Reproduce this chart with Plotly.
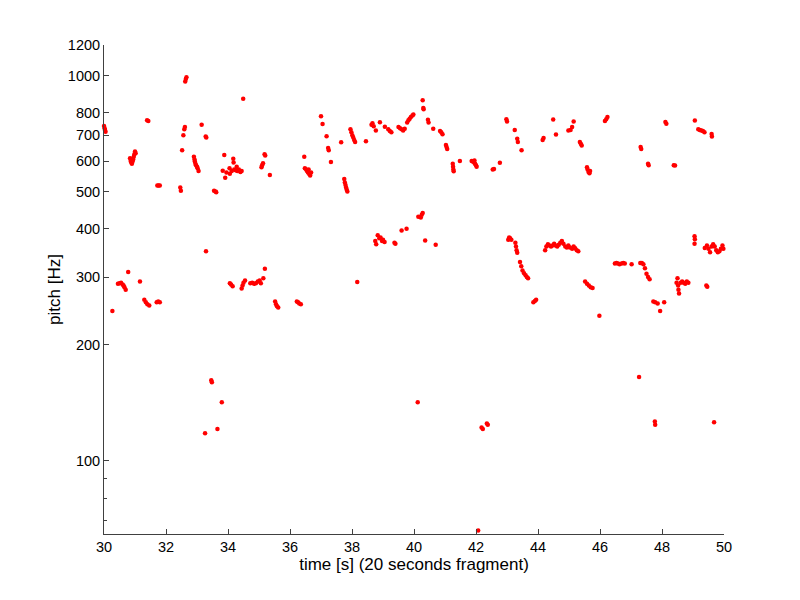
import numpy as np
import plotly.graph_objects as go

# ---- data (time [s], pitch [Hz]) ----
t_high = [30.0, 30.02, 30.03, 30.05,
          30.84, 30.86, 30.88, 30.90, 30.92, 30.94, 30.96, 30.98, 31.0, 31.02,
          31.39, 31.43, 31.72, 31.76, 31.80, 32.46, 32.48,
          32.52, 32.56, 32.59, 32.61, 32.62, 32.64, 32.66,
          32.9, 32.92, 32.93, 32.95, 32.97, 33.0, 33.02, 33.05,
          33.15, 33.28, 33.3, 33.55, 33.6, 33.62,
          33.83, 33.88, 33.91, 33.95, 34.06, 34.05, 34.12, 34.17, 34.18, 34.2, 34.25, 34.28, 34.3, 34.35, 34.4, 34.44,
          34.49, 35.08, 35.1, 35.13, 35.18, 35.2, 35.35,
          36.46, 36.48, 36.52, 36.55, 36.58, 36.6, 36.62, 36.65, 36.68,
          37.0, 37.05, 37.18, 37.23, 37.25, 37.32,
          37.65, 37.75, 37.77, 37.79, 37.81, 37.83, 37.85,
          37.95, 37.98, 38.01, 38.04, 38.07, 38.1, 38.45,
          38.63, 38.66, 38.7, 38.77, 38.9, 39.06, 39.17, 39.22, 39.27,
          39.5, 39.55, 39.6, 39.65, 39.7,
          39.78, 39.82, 39.86, 39.9, 39.95, 39.98,
          40.28, 40.3, 40.31, 40.45, 40.47, 40.62, 40.84, 40.88, 40.92,
          41.03, 41.05, 41.07, 41.25, 41.26, 41.27, 41.28, 41.48,
          41.86, 41.9, 41.94, 41.95, 41.97, 42.0, 42.02,
          42.54, 42.58, 42.77, 42.98, 43.0, 43.25, 43.33, 43.35, 43.47,
          44.15, 44.18, 44.49, 44.58, 44.98, 45.05, 45.1, 45.15,
          45.35, 45.38, 45.41, 45.58, 45.6, 45.63, 45.66, 45.68,
          46.16, 46.2, 46.24, 47.31, 47.33, 47.55, 47.57,
          48.11, 48.14, 48.38, 48.42,
          49.06, 49.17, 49.22, 49.27, 49.32, 49.37, 49.6, 49.61]
f_high = [740, 730, 722, 715,
          610, 600, 595, 590, 598, 605, 615, 625, 635, 628,
          765, 762, 518, 518, 518, 512, 502,
          640, 700, 725, 735, 965, 980, 990,
          615, 605, 598, 590, 585, 580, 575, 565,
          745, 695, 690, 502, 500, 498,
          566, 622, 543, 560, 556, 575, 565, 608, 595, 570, 568, 580, 565, 570, 562, 565,
          870, 578, 585, 592, 625, 620, 552,
          615, 575, 570, 565, 560, 570, 555, 550, 560,
          784, 749, 696, 648, 640, 596,
          671, 539, 528, 520, 512, 505, 500,
          725, 712, 700, 690, 680, 672, 675,
          745, 752, 738, 720, 756, 736, 725, 718, 712,
          735, 730, 725, 720, 728,
          755, 765, 772, 780, 788, 792,
          863, 824, 818, 768, 755, 728, 718, 712, 704,
          660, 652, 645, 590, 580, 570, 564, 600,
          600, 598, 595, 602, 590, 585, 580,
          570, 572, 594, 770, 760, 722, 685, 672, 640,
          680, 688, 769, 703, 720, 722, 735, 760,
          672, 665, 658, 578, 570, 562, 558, 565,
          762, 770, 780, 652, 645, 590, 585,
          757, 750, 585, 584,
          764, 725, 722, 720, 718, 712, 705, 695]

t_mid = [30.27, 30.45, 30.5, 30.55, 30.6, 30.63, 30.66, 30.7, 30.78, 31.16,
         31.3, 31.35, 31.4, 31.46, 31.7, 31.75, 31.8, 33.29,
         34.06, 34.1, 34.15, 34.44, 34.47, 34.5, 34.55,
         34.72, 34.78, 34.84, 34.9, 34.96, 35.02, 35.06, 35.14, 35.19,
         35.52, 35.55, 35.58, 35.62, 36.22, 36.26, 36.3, 36.35, 38.17,
         38.75, 38.78, 38.83, 38.88, 38.92, 38.97, 39.0, 39.05, 39.37, 39.4,
         39.6, 39.76, 40.14, 40.22, 40.25, 40.28, 40.36, 40.7,
         43.04, 43.07, 43.1, 43.14, 43.27, 43.29, 43.31, 43.33,
         43.42, 43.46, 43.5, 43.55, 43.6, 43.64, 43.68, 43.85, 43.9, 43.94,
         44.23, 44.27, 44.32, 44.37, 44.42, 44.47, 44.52, 44.57, 44.62, 44.67, 44.72,
         44.77, 44.82, 44.88, 44.93, 44.98, 45.03, 45.1, 45.15, 45.2, 45.25, 45.3,
         45.52, 45.58, 45.64, 45.7, 45.76, 45.98,
         46.48, 46.53, 46.58, 46.63, 46.7, 46.75, 46.8, 47.02,
         47.3, 47.35, 47.4, 47.45, 47.5, 47.55, 47.6,
         47.72, 47.78, 47.86, 47.94, 48.07,
         48.47, 48.5, 48.52, 48.53, 48.55, 48.6, 48.65, 48.7, 48.75, 48.8, 48.85,
         49.05, 49.06, 49.05, 49.43, 49.46,
         49.38, 49.45, 49.5, 49.55, 49.6, 49.65, 49.7, 49.75, 49.8, 49.85, 49.9, 49.95, 49.98]
f_mid = [245, 288, 289, 290, 287, 285, 282, 278, 309, 292,
         262, 258, 255, 253, 258, 259, 258, 350,
         289, 287, 284, 280, 285, 290, 294,
         289, 290, 288, 289, 292, 294, 289, 298, 315,
         259, 255, 252, 250, 259, 258, 256, 255, 291,
         372, 365, 385, 378, 380, 372, 375, 370, 368, 366,
         396, 400, 430, 428, 435, 440, 373, 364,
         375, 380, 378, 375, 368, 360, 352, 347,
         328, 320, 312, 307, 303, 300, 298, 258, 260, 262,
         352, 360, 365, 362, 360, 362, 366, 362, 360, 364, 368,
         372, 366, 360, 358, 362, 358, 355, 360, 356, 352, 350,
         292, 288, 285, 282, 281, 238,
         325, 326, 325, 324, 325, 326, 325, 324,
         326, 326, 324, 316, 306, 300, 296,
         259, 258, 256, 245, 258,
         290, 298, 285, 278, 272, 290, 292, 290, 288, 292, 290,
         383, 376, 366, 285, 283,
         357, 362, 355, 348, 360, 365, 360, 352, 348, 350, 355, 362, 355]

t_low = [33.26, 33.46, 33.48, 33.66, 33.8, 40.12, 42.07, 42.18, 42.22, 42.35, 42.38,
         47.26, 47.77, 47.78, 49.68]
f_low = [118, 162, 160, 121, 142, 142, 66, 122, 121, 125, 124,
         165, 126.5, 124, 126]

x_ticks = [30, 32, 34, 36, 38, 40, 42, 44, 46, 48, 50]
y_ticks = [100, 200, 300, 400, 500, 600, 700, 800, 1000, 1200]
y_minor = [70, 80, 90]

fig = go.Figure()
for tt, ff in [(t_high, f_high), (t_mid, f_mid), (t_low, f_low)]:
    fig.add_trace(go.Scatter(
        x=tt, y=ff, mode="markers",
        marker=dict(color="#ff0000", size=4.5, line=dict(width=0)),
        cliponaxis=False, showlegend=False, hoverinfo="x+y"))

font = dict(family="Arial, Liberation Sans, sans-serif", size=14.5, color="#000000")
fig.update_layout(
    width=800, height=600,
    margin=dict(l=96, r=84, t=37, b=74, pad=0),
    paper_bgcolor="white", plot_bgcolor="white",
    font=font,
    xaxis=dict(range=[30, 50], tickvals=x_ticks, ticktext=[str(v) for v in x_ticks],
               ticks="inside", ticklen=5, tickcolor="#404040",
               showline=True, linecolor="#404040", linewidth=1,
               showgrid=False, zeroline=False, automargin=False,
               title=dict(text="time [s] (20 seconds fragment)", standoff=3)),
    yaxis=dict(type="log", range=[np.log10(64.6), np.log10(1200)],
               tickvals=y_ticks, ticktext=[str(v) for v in y_ticks],
               ticks="inside", ticklen=5, tickcolor="#404040",
               minor=dict(tickvals=y_minor, ticks="inside", ticklen=3,
                          tickcolor="#404040", showgrid=False),
               showline=True, linecolor="#404040", linewidth=1,
               showgrid=False, zeroline=False, automargin=False,
               title=dict(text="pitch [Hz]", standoff=2)),
)

fig.write_html("out.html")
